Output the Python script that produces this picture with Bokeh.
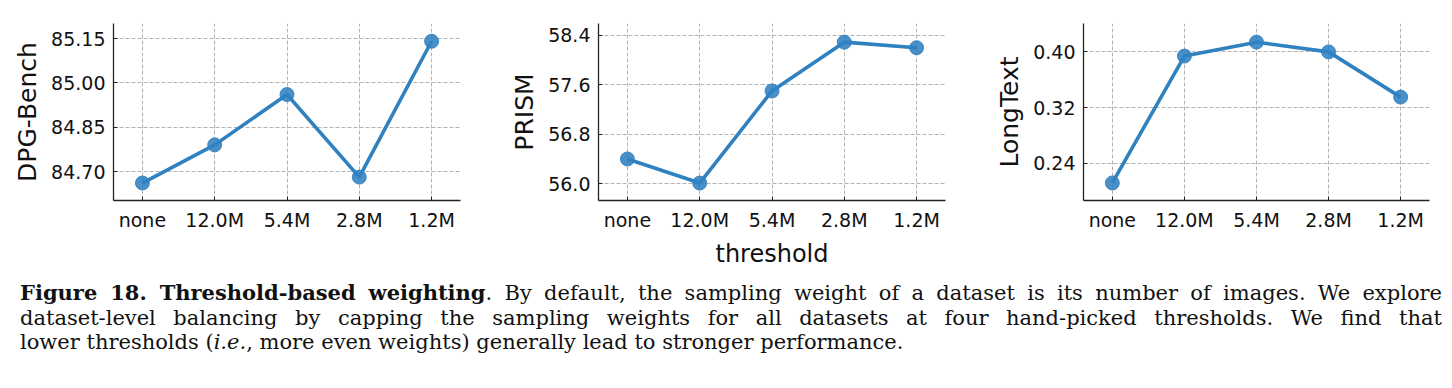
from bokeh.plotting import figure
from bokeh.models import Range1d, FixedTicker, Div
from bokeh.layouts import column, row
from bokeh.embed import file_html
from bokeh.resources import INLINE

# ---- data ----
categories = ["none", "12.0M", "5.4M", "2.8M", "1.2M"]
dpg_values = [84.662, 84.791, 84.961, 84.682, 85.141]
prism_values = [56.40, 56.01, 57.50, 58.29, 58.20]
longtext_values = [0.2116, 0.394, 0.414, 0.400, 0.335]
dpg_ticks = [84.70, 84.85, 85.00, 85.15]
prism_ticks = [56.0, 56.8, 57.6, 58.4]
longtext_ticks = [0.24, 0.32, 0.40]

LINE_COLOR = "#3081c0"
SANS = "DejaVu Sans"


def make_panel(values, yticks, yfmt, ylabel, yrange, width, left, right, xlabel=None):
    xs = list(range(len(categories)))
    p = figure(width=width, height=270, output_backend="svg", toolbar_location=None,
               x_range=Range1d(-0.4, len(categories) - 0.6), y_range=Range1d(*yrange),
               min_border_left=left, min_border_right=right, min_border_top=23,
               min_border_bottom=68)
    p.outline_line_color = None
    p.background_fill_color = "white"
    p.border_fill_color = "white"
    # grid
    for g in (p.xgrid[0], p.ygrid[0]):
        g.grid_line_color = "#b3b3b3"
        g.grid_line_dash = "4 2"
        g.grid_line_width = 1
    # axes
    p.xaxis.ticker = FixedTicker(ticks=xs)
    p.xaxis.major_label_overrides = {i: c for i, c in enumerate(categories)}
    p.yaxis.ticker = FixedTicker(ticks=yticks)
    p.yaxis.major_label_overrides = {t: (yfmt % t) for t in yticks}
    for ax in (p.xaxis[0], p.yaxis[0]):
        ax.axis_line_color = "#222222"
        ax.axis_line_width = 1.3
        ax.major_tick_in = 4
        ax.major_tick_out = 0
        ax.major_tick_line_color = "#222222"
        ax.minor_tick_line_color = None
        ax.major_label_text_font = SANS
        ax.major_label_text_font_size = "19px"
        ax.major_label_text_color = "#111111"
        ax.major_label_standoff = 8
        ax.axis_label_text_font = SANS
        ax.axis_label_text_font_style = "normal"
        ax.axis_label_text_color = "#111111"
        ax.axis_label_standoff = 6
    p.yaxis.axis_label = ylabel
    p.yaxis.axis_label_text_font_size = "25px"
    if xlabel:
        p.xaxis.axis_label = xlabel
        p.xaxis.axis_label_text_font_size = "24px"
    p.line(xs, values, line_color=LINE_COLOR, line_width=3.6)
    p.scatter(xs, values, size=14, fill_color=LINE_COLOR, line_color=LINE_COLOR,
              fill_alpha=0.88, line_alpha=0.88)
    return p


p1 = make_panel(dpg_values, dpg_ticks, "%.2f", "DPG-Bench", (84.603, 85.201), 480, 113, 20)
p2 = make_panel(prism_values, prism_ticks, "%.1f", "PRISM", (55.728, 58.592), 480, 118, 15,
                xlabel="threshold")
p3 = make_panel(longtext_values, longtext_ticks, "%.2f", "LongText", (0.1864, 0.4408), 492, 123, 23)

line_style = "display:block;text-align:justify;text-align-last:justify;white-space:nowrap;"
caption_html = (
    "<div style=\"font-family:'DejaVu Serif';font-size:21px;line-height:24.5px;color:#111;"
    "padding:6px 15px 0 15px;box-sizing:border-box;width:1452px;\">"
    f"<span style='{line_style}'><b>Figure 18. Threshold-based weighting</b>. By default, the sampling "
    "weight of a dataset is its number of images. We explore</span>"
    f"<span style='{line_style}'>dataset-level balancing by capping the sampling weights for all "
    "datasets at four hand-picked thresholds. We find that</span>"
    "<span style='display:block;text-align:left;white-space:nowrap;'>lower thresholds "
    "(<i>i.e.</i>, more even weights) generally lead to stronger performance.</span>"
    "</div>"
)
caption = Div(text=caption_html, width=1452, height=118)

layout = column(row(p1, p2, p3, spacing=0), caption, spacing=0)
open("out.html", "w").write(file_html(layout, INLINE))
